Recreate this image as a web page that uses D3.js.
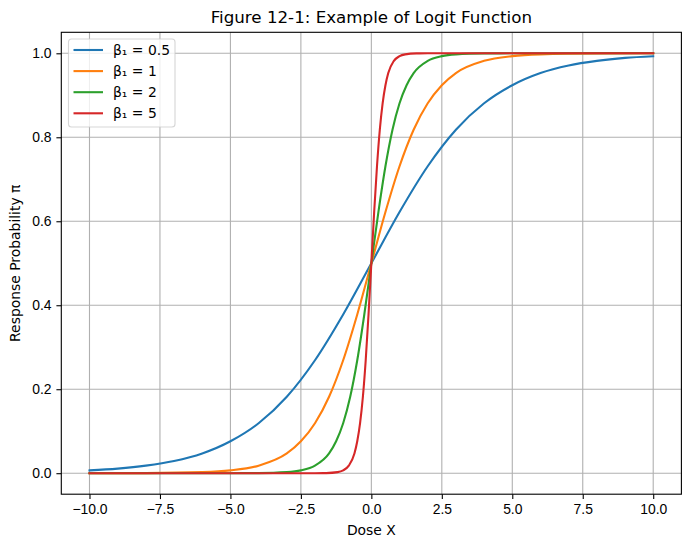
<!DOCTYPE html>
<html>
<head>
<meta charset="utf-8">
<script src="https://cdn.jsdelivr.net/npm/d3@7"></script>
<style>
  body { margin: 0; background: #fff; }
  svg { font-family: "DejaVu Sans", sans-serif; }
  .tick text { font-size: 13.9px; fill: #000; }
</style>
</head>
<body>
<div id="chart"></div>
<script>
// values
const seriesLabels = ['β₁ = 0.5', 'β₁ = 1', 'β₁ = 2', 'β₁ = 5'];
const seriesColors = ['#1f77b4', '#ff7f0e', '#2ca02c', '#d62728'];

const xBeta05 = [-10, -9, -8, -7, -6, -5, -4, -3, -2, -1, 0, 1, 2, 3, 4, 5, 6, 7, 8, 9, 10];
const yBeta05 = [0.0067, 0.011, 0.018, 0.029, 0.047, 0.076, 0.119, 0.182, 0.269, 0.378, 0.5,
                 0.622, 0.731, 0.818, 0.881, 0.924, 0.953, 0.971, 0.982, 0.989, 0.993];

const xBeta1 = [-10, -8, -6, -5, -4, -3, -2.5, -2, -1.5, -1, -0.5, 0, 0.5, 1, 1.5, 2, 2.5, 3, 4, 5, 6, 8, 10];
const yBeta1 = [0.0000, 0.0003, 0.0025, 0.0067, 0.018, 0.047, 0.076, 0.119, 0.182, 0.269, 0.378, 0.5,
                0.622, 0.731, 0.818, 0.881, 0.924, 0.953, 0.982, 0.9933, 0.9975, 0.9997, 1.0];

const xBeta2 = [-10, -5, -4, -3, -2.5, -2, -1.5, -1.25, -1, -0.75, -0.5, -0.25, 0,
                0.25, 0.5, 0.75, 1, 1.25, 1.5, 2, 2.5, 3, 4, 5, 10];
const yBeta2 = [0.0, 0.00005, 0.0003, 0.0025, 0.0067, 0.018, 0.047, 0.076, 0.119, 0.182, 0.269, 0.378, 0.5,
                0.622, 0.731, 0.818, 0.881, 0.924, 0.953, 0.982, 0.9933, 0.9975, 0.9997, 0.99995, 1.0];

const xBeta5 = [-10, -2, -1.6, -1.2, -1, -0.8, -0.6, -0.5, -0.4, -0.3, -0.2, -0.1, 0,
                0.1, 0.2, 0.3, 0.4, 0.5, 0.6, 0.8, 1, 1.2, 1.6, 2, 10];
const yBeta5 = [0.0, 0.00005, 0.0003, 0.0025, 0.0067, 0.018, 0.047, 0.076, 0.119, 0.182, 0.269, 0.378, 0.5,
                0.622, 0.731, 0.818, 0.881, 0.924, 0.953, 0.982, 0.9933, 0.9975, 0.9997, 0.99995, 1.0];

const xTicks = [-10, -7.5, -5, -2.5, 0, 2.5, 5, 7.5, 10];
const yTicks = [0, 0.2, 0.4, 0.6, 0.8, 1.0];

const seriesX = [xBeta05, xBeta1, xBeta2, xBeta5];
const seriesY = [yBeta05, yBeta1, yBeta2, yBeta5];

const width = 691, height = 547;
const margin = { top: 32.3, right: 691 - 681.4, bottom: 547 - 494.2, left: 61.3 };
const innerW = width - margin.left - margin.right;
const innerH = height - margin.top - margin.bottom;

const svg = d3.select('#chart')
    .append('svg')
    .attr('width', width)
    .attr('height', height);

const chart = svg.append('g')
    .attr('transform', `translate(${margin.left},${margin.top})`);

const xScale = d3.scaleLinear().domain([-11, 11]).range([0, innerW]);
const yScale = d3.scaleLinear().domain([-0.05, 1.05]).range([innerH, 0]);

// grid
chart.append('g')
    .selectAll('line')
    .data(xTicks)
    .join('line')
    .attr('x1', d => xScale(d)).attr('x2', d => xScale(d))
    .attr('y1', 0).attr('y2', innerH)
    .attr('stroke', '#b0b0b0').attr('stroke-width', 1.1);

chart.append('g')
    .selectAll('line')
    .data(yTicks)
    .join('line')
    .attr('x1', 0).attr('x2', innerW)
    .attr('y1', d => yScale(d)).attr('y2', d => yScale(d))
    .attr('stroke', '#b0b0b0').attr('stroke-width', 1.1);

// curves
const line = d3.line()
    .x(d => xScale(d[0]))
    .y(d => yScale(d[1]))
    .curve(d3.curveMonotoneX);

chart.append('defs').append('clipPath').attr('id', 'clip')
    .append('rect').attr('width', innerW).attr('height', innerH);

seriesX.forEach((xs, i) => {
    const pts = xs.map((x, j) => [x, seriesY[i][j]]);
    chart.append('path')
        .datum(pts)
        .attr('clip-path', 'url(#clip)')
        .attr('fill', 'none')
        .attr('stroke', seriesColors[i])
        .attr('stroke-width', 2.1)
        .attr('stroke-linejoin', 'round')
        .attr('stroke-linecap', 'square')
        .attr('d', line);
});

// axes
const fmt = d3.format('.1f');
const xAxis = d3.axisBottom(xScale).tickValues(xTicks).tickSize(4.9).tickPadding(4.9)
    .tickFormat(d => fmt(d).replace('-', '\u2212'));
const yAxis = d3.axisLeft(yScale).tickValues(yTicks).tickSize(4.9).tickPadding(4.9)
    .tickFormat(fmt);

const xg = chart.append('g').attr('transform', `translate(0,${innerH})`).call(xAxis);
const yg = chart.append('g').call(yAxis);
[xg, yg].forEach(g => {
    g.select('.domain').remove();
    g.selectAll('.tick line').attr('stroke', '#000').attr('stroke-width', 1.1);
});
xg.selectAll('.tick text').attr('dy', '0.71em');

chart.append('rect')
    .attr('width', innerW).attr('height', innerH)
    .attr('fill', 'none').attr('stroke', '#000').attr('stroke-width', 1.1);

// labels
svg.append('text')
    .attr('x', margin.left + innerW / 2)
    .attr('y', 23)
    .attr('text-anchor', 'middle')
    .style('font-size', '16.7px')
    .text('Figure 12-1: Example of Logit Function');

svg.append('text')
    .attr('x', margin.left + innerW / 2)
    .attr('y', 535)
    .attr('text-anchor', 'middle')
    .style('font-size', '13.9px')
    .text('Dose X');

svg.append('text')
    .attr('transform', `translate(20,${margin.top + innerH / 2}) rotate(-90)`)
    .attr('text-anchor', 'middle')
    .style('font-size', '13.9px')
    .text('Response Probability π');

// legend
const legend = svg.append('g').attr('transform', 'translate(68.5,39)');
legend.append('rect')
    .attr('width', 106.5).attr('height', 88)
    .attr('rx', 3)
    .attr('fill', 'rgba(255,255,255,0.8)')
    .attr('stroke', 'rgba(204,204,204,0.8)')
    .attr('stroke-width', 1.1);

const rows = legend.selectAll('.row')
    .data(seriesLabels)
    .join('g')
    .attr('class', 'row')
    .attr('transform', (d, i) => `translate(0,${11 + i * 21.1})`);

rows.append('line')
    .attr('x1', 5).attr('x2', 34.5)
    .attr('stroke', (d, i) => seriesColors[i])
    .attr('stroke-width', 2.1);

rows.append('text')
    .attr('x', 44.5)
    .attr('dy', '0.36em')
    .style('font-size', '13.9px')
    .text(d => d);
</script>
</body>
</html>
